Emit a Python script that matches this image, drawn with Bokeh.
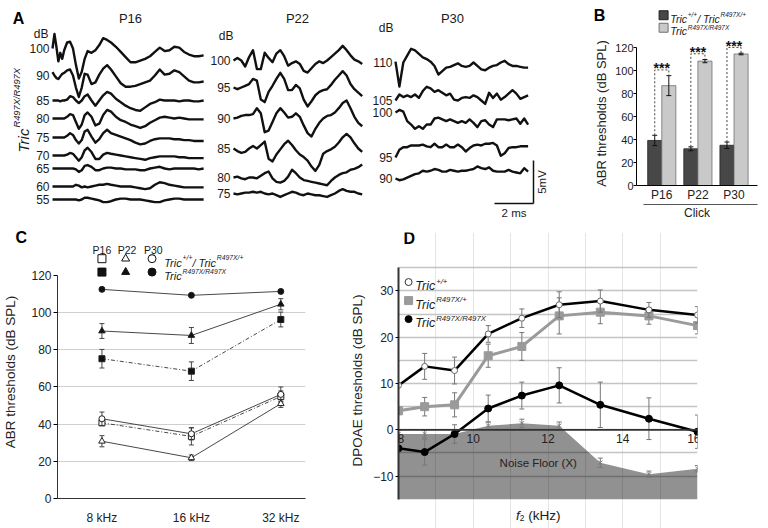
import numpy as np
from bokeh.plotting import figure
from bokeh.layouts import column, row
from bokeh.models import Range1d, FixedTicker, LinearAxis, Label, Span, Title
from bokeh.embed import file_html
from bokeh.resources import INLINE
from bokeh.core.properties import value

FONT = "Liberation Sans"
INK = "#1a1a1a"

# ---------------- Panel A: ABR waveforms (time in ms, amplitude in mV) ----------------
P16_T = [0, 0.1, 0.2, 0.3, 0.4, 0.5, 0.6, 0.75, 0.9, 1.05, 1.2, 1.35, 1.5, 1.65, 1.8,
         2.0, 2.2, 2.4, 2.6, 2.8, 3.0, 3.25, 3.5, 3.75, 4.0, 4.25, 4.5, 4.75, 5.0,
         5.25, 5.5, 5.75, 6.0, 6.25, 6.5, 6.75, 7.0, 7.25, 7.5, 7.75]
P16_LEVELS = [100, 90, 85, 80, 75, 70, 65, 60, 55]
P16_100 = [0, 1.7, 0.2, -1.5, -0.5, -1.2, -0.2, 0.7, 0.8, 0, -1.9, -3.5, -2.7, -1.2, -0.3, -0.5,
           -0.2, 0.4, 1.2, 1.0, 0.7, 0.2, -0.4, -1.0, -1.6, -1.6, -1.4, -1.2, -0.9, -0.4, 0.1,
           -0.3, -0.2, 0.2, 0.1, -0.4, -0.7, -0.9, -0.9, -0.8]
P16_90 = [0.4, 0, -0.3, -0.4, -0.1, 0.2, 0.3, 0.6, 0.7, 0, -1.4, -2.5, -1.4, 0.2, 0.1, -1.0,
          -0.8, 0.1, 0.8, 1.2, 0.7, -0.1, -0.9, -1.3, -1.3, -1.2, -1.0, -0.8, -0.6, 0, 0.7,
          0.1, 0.2, 0.6, 0.4, -0.1, -0.6, -0.8, -0.8, -0.7]
P16_85 = [0, 0, 0, 0, -0.1, 0, 0, 0.1, 0.5, 0.4, 0, -0.3, 0, 0.5, 0.7, 0, -0.6, 0, 0.6, 1.0,
          0.8, 0.2, -0.2, -0.6, -0.9, -1.1, -1.2, -0.8, -0.4, -0.2, 0.1, 0, 0, 0, -0.1, 0, 0,
          -0.1, -0.1, 0]
P16_80 = [0, 0, 0, 0, 0, 0, 0, 0.2, 0.5, 0.4, -0.4, -1.2, -0.7, 0.4, 0.7, 0.2, -0.8, -0.6, 0.4,
          1.0, 0.8, 0.2, -0.2, -0.4, -0.7, -0.9, -1.1, -0.9, -0.5, -0.2, 0.1, 0.2, 0.1, 0, 0.1,
          0, -0.1, -0.1, -0.1, -0.1]
P16_75 = [0, 0, 0, 0, 0, 0, 0, 0.2, 0.5, 0.3, -0.3, -0.7, -0.3, 0.7, 0.9, 0.1, -0.6, -0.2, 0.5,
          0.9, 0.5, 0.3, 0.1, -0.1, -0.3, -0.6, -0.8, -0.7, -0.4, -0.2, -0.1, -0.1, -0.1, -0.2,
          -0.2, -0.3, -0.3, -0.4, -0.4, -0.4]
P16_70 = [0, 0, 0, 0, 0, 0, 0, 0.1, 0.3, 0.2, -0.2, -0.6, -0.2, 0.6, 0.9, 0.4, -0.4, -0.4, 0.1,
          0.3, 0.2, 0.1, 0, -0.1, -0.2, -0.3, -0.4, -0.5, -0.3, -0.2, -0.1, -0.1, -0.1, -0.1,
          -0.2, -0.2, -0.3, -0.3, -0.3, -0.3]
P16_65 = [0, 0, 0, 0, 0, 0, 0, 0, 0, 0, -0.1, -0.4, -0.2, 0.3, 0.4, 0.2, -0.2, -0.2, 0, 0.1,
          0.1, 0, 0, -0.1, -0.1, -0.1, -0.2, -0.2, 0, 0.1, 0.2, 0, -0.1, 0, 0, 0, 0, 0, -0.1, 0]
P16_60 = [0, 0, 0, 0, 0, 0, 0, 0, 0, 0, 0.2, 0.1, -0.1, 0, -0.1, 0, 0.1, 0.2, 0.2, 0.3, 0.2,
          0.1, 0, 0, 0, -0.1, -0.2, -0.3, -0.2, 0.2, 0.5, 0.4, 0.2, 0.1, 0, -0.1, -0.1, -0.1,
          -0.1, -0.1]
P16_55 = [0, 0, 0, 0, 0, 0, 0, 0, 0, 0, 0, -0.1, 0, 0.2, 0.2, 0.1, 0, -0.1, -0.3, -0.3, -0.2,
          0, 0.1, 0.1, 0, 0, 0, -0.1, -0.2, -0.3, -0.3, -0.1, 0, 0.1, 0.1, 0, 0, 0, 0, 0]
P16_TRACES = [P16_100, P16_90, P16_85, P16_80, P16_75, P16_70, P16_65, P16_60, P16_55]

P22_T = [0, 0.2, 0.4, 0.6, 0.8, 1.0, 1.2, 1.4, 1.6, 1.8, 2.0, 2.2, 2.4, 2.6, 2.8, 3.0, 3.2,
         3.4, 3.6, 3.8, 4.0, 4.2, 4.4, 4.6, 4.8, 5.0, 5.2, 5.4, 5.6, 5.8, 6.0, 6.2, 6.4, 6.6]
P22_LEVELS = [100, 95, 90, 85, 80, 75]
P22_100 = [0, 0.3, 0, -0.7, 0.4, 1.2, -1.0, -1.0, 0.9, 0.3, -0.2, 0.8, 1.2, 0.5, -0.6, -0.3,
           -0.1, -0.4, -1.2, -1.4, -0.9, -0.4, -0.1, -0.3, 0, 0.4, 0.8, 1.2, 1.7, 1.2, 0.6,
           0.1, -0.1, -0.4]
P22_95 = [0, -0.2, 0, 0.2, 0.4, 1.0, 0.8, -1.4, -1.7, -0.5, 0.2, 1.0, 1.7, 1.0, -0.3, -0.3,
          0.3, -0.1, -1.4, -2.2, -1.6, -0.9, -0.5, -0.3, -0.2, 0.3, 0.9, 1.4, 1.9, 1.4, 0.4,
          -0.2, -0.6, -1.0]
P22_90 = [0, 0.1, 0.3, 0.4, 0.4, 0.5, 1.2, 0.6, -1.6, -1.4, -0.4, 0.6, 1.2, 0.7, 0.1, 0.2,
          0.6, 0.2, -0.8, -1.7, -2.1, -1.2, -0.5, 0, 0.3, 0.4, 0.7, 1.2, 1.8, 2.1, 1.2, 0.2,
          -0.5, -0.9]
P22_85 = [0, -0.3, -0.5, -0.4, 0, 0.3, 0, 0.4, 0.8, -1.2, -1.5, -0.7, -0.1, 0.5, 0.9, 0.4,
          -0.2, -0.7, -1.0, -1.4, -2.1, -2.6, -1.9, -0.6, -0.3, -0.1, 0.2, 0.7, 1.3, 1.7, 1.3,
          0.6, 0, -0.4]
P22_80 = [0, 0.1, -0.1, -0.2, 0, 0, -0.1, 0.2, 0.5, 0.7, -0.1, -0.5, -0.6, -0.4, 0.1, 0.9,
          0.5, 0, -0.3, -0.4, -0.5, -0.6, -0.7, -0.8, -0.9, -0.4, 0, 0.3, 0.5, 0.6, 0.9, 1.0,
          1.2, 1.5]
P22_75 = [0, -0.1, 0, 0.1, 0.1, 0.2, 0.1, 0.2, 0, -0.1, 0, -0.2, -0.4, -0.2, 0, 0.2, 0.1,
          -0.1, -0.2, 0, -0.1, -0.2, -0.2, -0.3, -0.4, -0.2, 0, 0.3, 0.5, 0.3, 0.2, 0.2, 0,
          -0.1]
P22_TRACES = [P22_100, P22_95, P22_90, P22_85, P22_80, P22_75]

P30_T = [0, 0.2, 0.4, 0.6, 0.8, 1.0, 1.2, 1.4, 1.6, 1.8, 2.0, 2.2, 2.4, 2.6, 2.8, 3.0, 3.2,
         3.4, 3.6, 3.8, 4.0, 4.2, 4.4, 4.6, 4.8, 5.0, 5.2, 5.4, 5.6, 5.8, 6.0, 6.2, 6.4, 6.6,
         6.8]
P30_LEVELS = [110, 105, 100, 95, 90]
P30_110 = [0.1, -2.8, 0, 0.8, 1.6, 1.4, 1.0, 0.6, 0.4, 0.1, -0.4, -1.4, -1.0, -0.6, -0.5,
           -0.3, -0.1, -0.4, -0.5, -0.4, 0, -0.4, -0.8, -0.9, -0.6, -0.4, -0.3, 0, 0.2, -0.2,
           -0.4, -0.4, -0.5, -0.6, -0.6]
P30_105 = [0, 0.7, 0.4, 0.6, 0.4, 0.7, 0.3, 1.1, 1.6, 1.4, 1.0, 1.2, 0.9, 0.6, 0.8, 0.1, 0,
           0.3, 0.4, 0.3, 0.6, 0.4, 0, -0.4, 0.9, 0.3, 0.8, 0.1, 0.4, 0.8, 1.2, 0.8, 0.2, 0.4,
           0.6]
P30_100 = [0, 0.3, 0.1, -1.0, -1.4, -1.9, -1.6, -1.9, -1.4, -1.4, -0.7, -0.6, -0.8, -1.0,
           -0.8, -1.0, -1.2, -1.0, -1.2, -0.8, -1.2, -1.7, -1.0, -0.9, -1.4, -1.7, -0.8, -0.8,
           -0.8, -0.9, -0.8, -0.7, -1.3, -0.7, -1.4]
P30_95 = [0, 0.9, 1.2, 1.2, 1.4, 1.4, 1.4, 1.5, 1.3, 1.2, 1.6, 1.2, 1.2, 1.5, 1.2, 1.2, 1.5,
          1.2, 0.7, 1.1, 1.4, 1.5, 1.4, 1.6, 1.6, 1.7, 1.4, 0.2, 0.5, 1.1, 1.2, 1.2, 1.3, 1.3,
          1.3]
P30_90 = [0, -0.2, -0.1, 0.1, 0.3, 0.5, 0.6, 0.9, 0.8, 0.9, 1.1, 1.0, 0.8, 0.8, 1.0, 0.9,
          0.8, 0.9, 0.9, 1.0, 1.1, 1.4, 1.2, 1.1, 1.3, 0.9, 0.8, 0.8, 0.8, 1.0, 0.8, 0.7, 0.6,
          1.2, 0.8]
P30_TRACES = [P30_110, P30_105, P30_100, P30_95, P30_90]
A_TITLES = ["P16", "P22", "P30"]
SCALE_MS = 2
SCALE_MV = 5

# ---------------- Panel B: click ABR thresholds ----------------
B_AGES = ["P16", "P22", "P30"]
B_HET = [39.3, 32.0, 35.1]
B_HET_ERR = [4.5, 1.7, 2.8]
B_MUT = [87.1, 108.5, 114.7]
B_MUT_ERR = [8.7, 1.4, 0.7]
B_SIG = ["***", "***", "***"]
B_YLABEL = "ABR thresholds (dB SPL)"

# ---------------- Panel C: tone ABR thresholds ----------------
C_FREQS = ["8 kHz", "16 kHz", "32 kHz"]
C_P16_OPEN = [40.7, 33.4, 54.9]
C_P16_OPEN_ERR = [1.5, 4.6, 3.0]
C_P22_OPEN = [30.8, 21.9, 51.0]
C_P22_OPEN_ERR = [3.0, 1.5, 2.0]
C_P30_OPEN = [42.9, 34.8, 56.0]
C_P30_OPEN_ERR = [3.6, 3.3, 4.0]
C_P16_FILL = [75.2, 68.5, 96.3]
C_P16_FILL_ERR = [5.0, 5.0, 4.0]
C_P22_FILL = [90.1, 87.7, 104.5]
C_P22_FILL_ERR = [4.0, 4.3, 3.0]
C_P30_FILL = [112.5, 109.3, 111.4]
C_P30_FILL_ERR = [0.8, 0.6, 0.6]

# ---------------- Panel D: DPOAE thresholds ----------------
D_F2 = [8.0, 8.7, 9.5, 10.4, 11.3, 12.3, 13.4, 14.7, 16.0]
D_WT = [9.6, 13.7, 12.8, 20.7, 24.1, 27.0, 27.8, 25.9, 24.8]
D_WT_ERR = [0.3, 2.8, 2.9, 1.8, 2.0, 2.8, 2.4, 1.6, 1.8]
D_HET = [4.1, 5.0, 5.4, 16.0, 18.0, 24.6, 25.4, 24.6, 22.5]
D_HET_ERR = [0.8, 2.0, 2.6, 2.5, 3.0, 3.9, 2.5, 1.8, 1.8]
D_MUT = [-4.0, -4.8, -0.9, 4.6, 7.4, 9.6, 5.4, 2.4, -0.4]
D_MUT_ERR = [0.5, 2.8, 2.0, 2.9, 2.9, 3.8, 4.9, 4.5, 3.6]
D_NOISE = [-0.9, -0.9, -0.9, 0.9, 1.4, 0.9, -7.1, -9.6, -8.4]
D_NOISE_ERR = [0.8, 0.8, 0.8, 0.8, 0.9, 0.8, 1.0, 0.7, 0.7]
D_XTICKS = [8, 10, 12, 14, 16]

# ---------------- helpers ----------------
WID = {" ": 278, "+": 584, "/": 278, "T": 611, "r": 333, "i": 222, "c": 500, "R": 722,
       "X": 667, "(": 333, ")": 333, "k": 500, "H": 722, "z": 500, "f": 278, "*": 389,
       "-": 333, "m": 833, "s": 500, "V": 667, "B": 667, "d": 556, "P": 667}


def tw(s, size):
    return sum(WID.get(ch, 556) for ch in s) * size / 1000.0


def rich(p, x, y, segs, size, align="left", angle=0.0, xo=0.0, yo=0.0,
         color=INK, style="italic", sup_scale=0.62):
    items = []
    for sg in segs:
        t, m = sg[0], sg[1]
        st = sg[2] if len(sg) > 2 else style
        s = size if m == 0 else size * sup_scale
        items.append((t, m, st, s, tw(t, s)))
    total = sum(it[4] for it in items)
    cur = {"left": 0.0, "center": -total / 2.0, "right": -total}[align]
    mid = 0.35 * size
    for t, m, st, s, w in items:
        lead = len(t) - len(t.lstrip(" "))
        start = cur + tw(" " * lead, s)
        shift = 0.42 * size if m == 1 else (-0.22 * size if m == -1 else 0.0)
        if angle == 0:
            dx, dy = start, shift - mid
        else:
            dx, dy = mid - shift, start
        p.add_layout(Label(x=x, y=y, x_offset=xo + dx, y_offset=yo + dy, text=t.strip(" "),
                           angle=angle, text_font=FONT, text_font_size=f"{s:.1f}px",
                           text_font_style=st, text_color=color, text_align="left",
                           text_baseline="alphabetic"))
        cur += w


def letter(p, x, y, t):
    p.text(x=[x], y=[y], text=[t], text_align="center", text_baseline="middle",
           text_font=value(FONT), text_font_size="16px", text_font_style="bold",
           text_color="#000")


def errbars(p, x, y, e, color="#222", width=1.0, cap=5):
    x = np.asarray(x, float)
    y = np.asarray(y, float)
    e = np.asarray(e, float)
    p.segment(x0=x, y0=y - e, x1=x, y1=y + e, line_color=color, line_width=width)
    p.scatter(np.concatenate([x, x]), np.concatenate([y - e, y + e]), marker="dash",
              size=cap, line_color=color, line_width=width)


def fig(w, h, xr, yr, left=0, right=0, top=0, bottom=0, **kw):
    p = figure(width=w, height=h, x_range=Range1d(*xr), y_range=Range1d(*yr),
               output_backend="svg", toolbar_location=None, **kw)
    if "frame_align" in p.properties():
        p.frame_align = False
    p.outline_line_color = None
    p.background_fill_color = "white"
    p.border_fill_color = "white"
    p.min_border_left = left
    p.min_border_right = right
    p.min_border_top = top
    p.min_border_bottom = bottom
    return p


def style_axis(ax, size="12px"):
    ax.major_label_text_font = FONT
    ax.major_label_text_font_size = size
    ax.major_label_text_color = "#222"
    ax.axis_label_text_font = FONT
    ax.axis_label_text_font_style = "normal"
    ax.axis_label_text_color = "#222"
    ax.minor_tick_line_color = None
    ax.minor_tick_out = 0
    ax.minor_tick_in = 0
    ax.major_tick_in = 0


# ================= Panel A (also hosts the left margin of panel B) =================
PX_PER_MS = 19.5
PX_PER_MV = 8.6
pa = fig(612, 222, (0, 612), (-222, 0), x_axis_type=None, y_axis_type=None)
A_X0 = [52, 233, 395]
A_BASE = [[48, 75, 100, 118, 137, 155, 168, 186, 199],
          [60, 87, 118, 148, 177, 193],
          [62, 100, 112, 157, 178]]
A_TITLE_X = [130, 297, 452]
A_DB = [(48, 33), (233, 35), (393, 27)]
cols = [(P16_T, P16_LEVELS, P16_TRACES), (P22_T, P22_LEVELS, P22_TRACES),
        (P30_T, P30_LEVELS, P30_TRACES)]
for k, (T, levels, traces) in enumerate(cols):
    x0 = A_X0[k]
    bases = A_BASE[k]
    for tr, b in zip(traces, bases):
        pa.line(x0 + np.array(T) * PX_PER_MS, -b + np.array(tr) * PX_PER_MV,
                line_width=2.4, line_color="#111", line_join="round")
    pa.text(x=[x0 - 3] * len(levels), y=[-b for b in bases], text=[str(l) for l in levels],
            text_align="right", text_baseline="middle", text_font=value(FONT),
            text_font_size="12px", text_color=INK)
    pa.text(x=[A_DB[k][0]], y=[-A_DB[k][1]], text=["dB"], text_align="right",
            text_baseline="middle", text_font=value(FONT), text_font_size="12px",
            text_color=INK)
pa.text(x=A_TITLE_X, y=[-18] * 3, text=A_TITLES, text_align="center", text_baseline="middle",
        text_font=value(FONT), text_font_size="13px", text_color=INK)
letter(pa, 18, -18, "A")
rich(pa, 18, -152, [("Tric", 0), ("R497X/R497X", 1)], 15, angle=np.pi / 2)
SB_X, SB_Y = 533, -203
pa.line([SB_X, SB_X], [SB_Y, SB_Y + SCALE_MV * PX_PER_MV], line_color="#111", line_width=1.5)
pa.line([SB_X - SCALE_MS * PX_PER_MS, SB_X], [SB_Y, SB_Y], line_color="#111", line_width=1.5)
pa.text(x=[SB_X + 8], y=[SB_Y + SCALE_MV * PX_PER_MV / 2], text=[f"{SCALE_MV}mV"], angle=np.pi / 2,
        text_align="center", text_baseline="middle", text_font=value(FONT),
        text_font_size="11.5px", text_color=INK)
pa.text(x=[SB_X - SCALE_MS * PX_PER_MS / 2], y=[SB_Y - 9], text=[f"{SCALE_MS} ms"],
        text_align="center", text_baseline="middle", text_font=value(FONT),
        text_font_size="11.5px", text_color=INK)
# panel B letter and its y-axis title sit in this margin
letter(pa, 599, -15, "B")
pa.text(x=[601], y=[-113], text=[B_YLABEL], angle=np.pi / 2, text_align="center",
        text_baseline="middle", text_font=value(FONT), text_font_size="13px", text_color="#222")

# ================= Panel B =================
pb = fig(156, 222, (-0.70, 2.65), (0, 157), left=21, right=11, top=5, bottom=0)
xb = np.arange(len(B_AGES))
XD = xb - 0.195
XL = xb + 0.195
pb.vbar(x=XD, top=B_HET, bottom=0, width=0.39, fill_color="#474747", line_color="#222",
        line_width=0.8)
pb.vbar(x=XL, top=B_MUT, bottom=0, width=0.39, fill_color="#c9c9c9", line_color="#707070",
        line_width=0.8)
errbars(pb, XD, B_HET, B_HET_ERR, "#111", 1.0, 5)
errbars(pb, XL, B_MUT, B_MUT_ERR, "#111", 1.0, 5)
top_d = np.array(B_HET) + np.array(B_HET_ERR)
top_l = np.array(B_MUT) + np.array(B_MUT_ERR)
br = top_l + 5
pb.multi_line(xs=[[a, a, b, b] for a, b in zip(XD, XL)],
              ys=[[d, h, h, l] for d, h, l in zip(top_d, br, top_l)],
              line_color="#444", line_width=1, line_dash="2 2")
pb.text(x=xb, y=br + 1.5, text=B_SIG, text_align="center", text_baseline="middle",
        text_font=value(FONT), text_font_size="14px", text_font_style="bold", text_color="#111")
pb.scatter([0.05, 0.05], [148.5, 137.6], marker="square", size=9,
           fill_color=["#474747", "#c9c9c9"], line_color=["#222", "#707070"])
rich(pb, 0.235, 148.5, [("Tric", 0), ("+/+", 1), ("/ Tric", 0), ("R497X/+", 1)], 10.5)
rich(pb, 0.235, 137.6, [("Tric", 0), ("R497X/R497X", 1)], 10.5)
yb = pb.yaxis[0]
style_axis(yb, "11px")
yb.ticker = FixedTicker(ticks=[0, 20, 40, 60, 80, 100, 120])
yb.bounds = (0, 120)
yb.major_label_standoff = 0
yb.major_tick_out = 3
xbx = pb.xaxis[0]
style_axis(xbx, "12px")
xbx.ticker = FixedTicker(ticks=list(xb))
xbx.major_label_overrides = {int(i): a for i, a in enumerate(B_AGES)}
xbx.major_tick_line_color = None
xbx.major_tick_out = 0
xbx.major_label_standoff = 2
ax2 = LinearAxis(ticker=FixedTicker(ticks=[]), axis_label="Click", bounds=(-0.52, 2.65))
style_axis(ax2)
ax2.axis_label_text_font_size = "12px"
ax2.axis_label_standoff = 1
ax2.major_tick_line_color = None
ax2.major_tick_out = 0
ax2.major_label_standoff = 0
ax2.axis_line_color = "#555"
pb.add_layout(ax2, "below")
pb.xgrid.visible = False
pb.ygrid.visible = False

# ================= Panel C =================
pc = fig(347, 306, (-0.497, 2.276), (0, 136.1), left=54, right=42, top=23, bottom=30)
pc.add_layout(Title(text="C", align="left", offset=-42, standoff=0, text_font=FONT,
                    text_font_size="16px", text_font_style="bold", text_color="#000"), "above")
xc = np.arange(len(C_FREQS))
series_c = [
    (C_P16_OPEN, C_P16_OPEN_ERR, "square", False, "4 2 1 2", 6),
    (C_P30_OPEN, C_P30_OPEN_ERR, "circle", False, "solid", 6),
    (C_P22_OPEN, C_P22_OPEN_ERR, "triangle", False, "solid", 6.5),
    (C_P16_FILL, C_P16_FILL_ERR, "square", True, "4 2 1 2", 6),
    (C_P22_FILL, C_P22_FILL_ERR, "triangle", True, "solid", 6.5),
    (C_P30_FILL, C_P30_FILL_ERR, "circle", True, "solid", 6),
]
for vals, errs, mk, filled, dash, sz in series_c:
    pc.line(xc, vals, line_color="#333", line_width=0.9, line_dash=dash)
    errbars(pc, xc, vals, errs, "#333", 0.9, 5)
    pc.scatter(xc, vals, marker=mk, size=sz, fill_color="#111" if filled else "white",
               line_color="#222", line_width=1)
pc.text(x=[0, 0.28, 0.575], y=[133.6] * 3, text=["P16", "P22", "P30"], text_align="center",
        text_baseline="middle", text_font=value(FONT), text_font_size="10.5px", text_color=INK)
for yy, filled in [(129.0, False), (121.8, True)]:
    pc.scatter([0, 0.265, 0.56], [yy] * 3, marker=["square", "triangle", "circle"], size=8,
               fill_color="#111" if filled else "white", line_color="#111", line_width=1)
rich(pc, 0.696, 129.0, [("Tric", 0), ("+/+", 1), ("/ Tric", 0), ("R497X/+", 1)], 11)
rich(pc, 0.696, 121.8, [("Tric", 0), ("R497X/R497X", 1)], 11)
yc = pc.yaxis[0]
style_axis(yc)
yc.ticker = FixedTicker(ticks=[0, 20, 40, 60, 80, 100, 120])
yc.bounds = (0, 120)
yc.axis_label = "ABR thresholds (dB SPL)"
yc.axis_label_text_font_size = "13.5px"
yc.axis_label_standoff = 10
yc.major_label_standoff = 2
yc.major_tick_out = 4
yc.axis_line_color = "#333"
xcx = pc.xaxis[0]
style_axis(xcx)
xcx.ticker = FixedTicker(ticks=list(xc))
xcx.major_label_overrides = {int(i): f for i, f in enumerate(C_FREQS)}
xcx.major_tick_line_color = None
xcx.major_tick_out = 0
xcx.major_label_standoff = 12
xcx.axis_line_color = "#333"
pc.xgrid.visible = False
pc.ygrid[0].ticker = FixedTicker(ticks=[20, 40, 60, 80, 100])
pc.ygrid[0].grid_line_color = "#cfcfcf"

# ================= Panel D =================
pd = fig(421, 306, (8, 16), (-21.3, 42.6), left=46, right=71, top=10, bottom=0,
         x_axis_location=None)
pd.varea(x=D_F2, y1=D_NOISE, y2=-15, fill_color="#000000", fill_alpha=0.43)
errbars(pd, D_F2, D_NOISE, D_NOISE_ERR, "#7a7a7a", 1, 5)
pd.scatter(D_F2, D_NOISE, marker="x", size=6, line_color="#7a7a7a", line_width=1)
pd.add_layout(Span(location=0, dimension="width", line_color="#333", line_width=1.8))
errbars(pd, D_F2, D_HET, D_HET_ERR, "#777", 1, 5)
pd.line(D_F2, D_HET, line_color="#9a9a9a", line_width=3)
pd.scatter(D_F2, D_HET, marker="square", size=8, fill_color="#9a9a9a", line_color="#9a9a9a")
errbars(pd, D_F2, D_WT, D_WT_ERR, "#777", 1, 5)
pd.line(D_F2, D_WT, line_color="#000", line_width=2.5)
pd.scatter(D_F2, D_WT, marker="circle", size=6, fill_color="white", line_color="#666",
           line_width=1)
errbars(pd, D_F2, D_MUT, D_MUT_ERR, "#777", 1, 5)
pd.line(D_F2, D_MUT, line_color="#000", line_width=2.5)
pd.scatter(D_F2, D_MUT, marker="circle", size=7, fill_color="#000", line_color="#000")
for i, t in enumerate(D_XTICKS):
    al = "left" if i == 0 else ("right" if i == len(D_XTICKS) - 1 else "center")
    xo = -1 if i == 0 else (3 if i == len(D_XTICKS) - 1 else 0)
    pd.add_layout(Label(x=t, y=0, x_offset=xo, y_offset=-4, text=str(t), text_font=FONT,
                        text_font_size="12px", text_color="#222", text_align=al,
                        text_baseline="top"))
pd.text(x=[11.74], y=[-7.2], text=["Noise Floor (X)"], text_align="center",
        text_baseline="middle", text_font=value(FONT), text_font_size="11.5px", text_color="#222")
pd.scatter([8.27], [31.9], marker="circle", size=7, fill_color="white", line_color="#333")
pd.scatter([8.27], [27.9], marker="square", size=8, fill_color="#9a9a9a", line_color="#9a9a9a")
pd.scatter([8.27], [23.9], marker="circle", size=7, fill_color="#000", line_color="#000")
rich(pd, 8.45, 31.9, [("Tric", 0), ("+/+", 1)], 12.5)
rich(pd, 8.45, 27.9, [("Tric", 0), ("R497X/+", 1)], 12.5)
rich(pd, 8.45, 23.9, [("Tric", 0), ("R497X/R497X", 1)], 12.5)
letter(pd, 8.29, 41.3, "D")
rich(pd, 11.74, -17.4, [("f", 0, "italic"), ("2", -1, "normal"), (" (kHz)", 0, "normal")],
     13.5, align="center")
yd = pd.yaxis[0]
style_axis(yd)
yd.ticker = FixedTicker(ticks=[-10, 0, 10, 20, 30])
yd.bounds = (-15, 35)
yd.axis_label = "DPOAE thresholds (dB SPL)"
yd.axis_label_text_font_size = "13.5px"
yd.axis_label_standoff = 5
yd.major_label_standoff = 2
yd.major_tick_out = 3
yd.axis_line_color = "#333"
yd.axis_line_width = 2
pd.ygrid[0].ticker = FixedTicker(ticks=[-10, -5, 0, 5, 10, 15, 20, 25, 30, 35])
pd.ygrid[0].grid_line_color = "#c4c4c4"
pd.ygrid[0].grid_line_width = 1.3

layout = column(row(pa, pb), row(pc, pd))
open("out.html", "w").write(file_html(layout, INLINE))
